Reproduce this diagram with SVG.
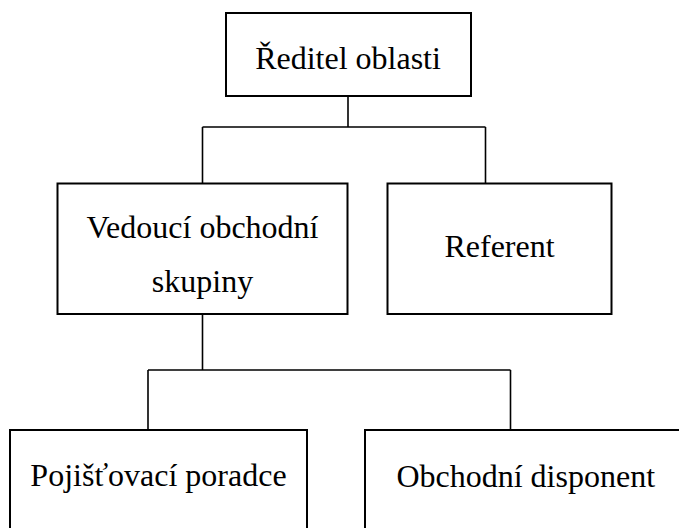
<svg xmlns="http://www.w3.org/2000/svg" width="679" height="528" viewBox="0 0 679 528">
<style>
.box{fill:#fff;stroke:#000;stroke-width:2}
.lbl{font-family:"Liberation Serif","Times New Roman",serif;font-size:32px;fill:#000;text-anchor:middle}
.conn{fill:none;stroke:#000;stroke-width:1.6}
</style>
<rect width="679" height="528" fill="#fff"/>
<g id="connectors">
<path class="conn" d="M348,96 V127 M202.5,127 H485.5 M202.5,127 V183.5 M485.5,127 V183.5"/>
<path class="conn" d="M202.5,314 V370 M148,370 H510.5 M148,370 V430 M510.5,370 V430"/>
</g>
<g id="reditel">
<rect class="box" x="226" y="13" width="245" height="83"/>
<text class="lbl" x="348" y="69">Ředitel oblasti</text>
</g>
<g id="vedouci">
<rect class="box" x="57.5" y="183.5" width="290" height="130.5"/>
<text class="lbl" x="202.5" y="238">Vedoucí obchodní</text>
<text class="lbl" x="202.5" y="292">skupiny</text>
</g>
<g id="referent">
<rect class="box" x="387.5" y="183.5" width="224" height="130.5"/>
<text class="lbl" x="499.5" y="256.5">Referent</text>
</g>
<g id="poradce">
<rect class="box" x="10" y="430" width="297" height="120"/>
<text class="lbl" x="158.5" y="486">Pojišťovací poradce</text>
</g>
<g id="disponent">
<rect class="box" x="365" y="430" width="400" height="120"/>
<text class="lbl" x="525.7" y="486.5">Obchodní disponent</text>
</g>
</svg>
